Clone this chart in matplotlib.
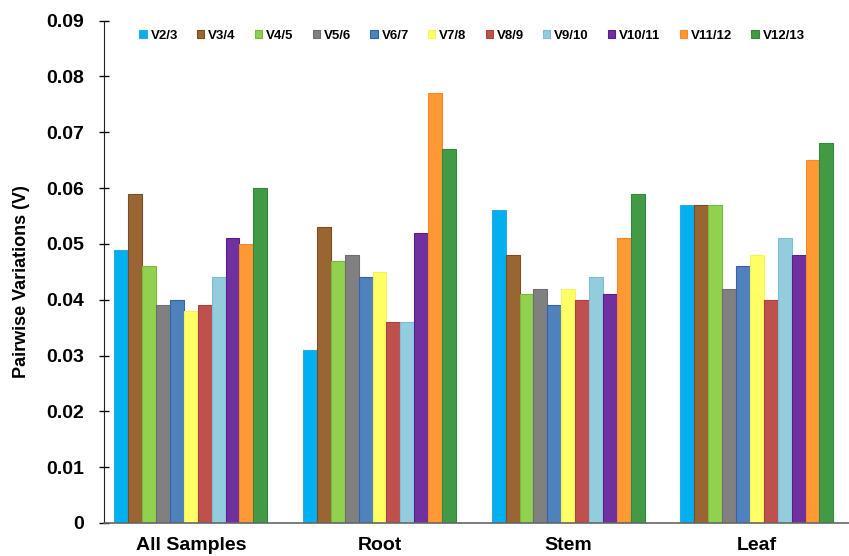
import matplotlib
matplotlib.use("Agg")
import matplotlib.pyplot as plt
import numpy as np

categories = ["All Samples", "Root", "Stem", "Leaf"]
series_names = ["V2/3", "V3/4", "V4/5", "V5/6", "V6/7", "V7/8", "V8/9",
                "V9/10", "V10/11", "V11/12", "V12/13"]
values = {
    "V2/3":   [0.049, 0.031, 0.056, 0.057],
    "V3/4":   [0.059, 0.053, 0.048, 0.057],
    "V4/5":   [0.046, 0.047, 0.041, 0.057],
    "V5/6":   [0.039, 0.048, 0.042, 0.042],
    "V6/7":   [0.040, 0.044, 0.039, 0.046],
    "V7/8":   [0.038, 0.045, 0.042, 0.048],
    "V8/9":   [0.039, 0.036, 0.040, 0.040],
    "V9/10":  [0.044, 0.036, 0.044, 0.051],
    "V10/11": [0.051, 0.052, 0.041, 0.048],
    "V11/12": [0.050, 0.077, 0.051, 0.065],
    "V12/13": [0.060, 0.067, 0.059, 0.068],
}
colors = ["#00B0F0", "#996633", "#92D050", "#808080", "#4F81BD", "#FFFF66",
          "#C0504D", "#93CDDD", "#7030A0", "#FF9933", "#439A46"]
edge_colors = ["#33A9DA", "#7A4E22", "#7CB83E", "#6E6E6E", "#3463A8", "#F3F35A",
               "#A84340", "#7FBFD6", "#56208A", "#F5892A", "#35883A"]

plt.rcParams['font.family'] = ['Liberation Sans', 'DejaVu Sans']

fig = plt.figure(figsize=(8.49, 5.56), dpi=100)
ax = fig.add_axes([0.1225, 0.0594, 0.8775, 0.9034])

x = np.arange(len(categories))
n = len(series_names)
group_w = 0.81
bw = group_w / n
for i, name in enumerate(series_names):
    offs = -group_w / 2 + bw * (i + 0.5)
    ax.bar(x + offs, values[name], width=bw, color=colors[i],
           edgecolor=edge_colors[i], linewidth=0.8, label=name)

ax.set_xlim(-0.46, 3.488)
ax.set_ylim(0, 0.09)
ax.set_yticks(np.arange(0, 0.0901, 0.01))
ax.set_yticklabels(["0"] + [f"{v:.2f}" for v in np.arange(0.01, 0.0901, 0.01)],
                   fontsize=14, fontweight='bold')
ax.set_xticks(x)
ax.set_xticklabels(categories, fontsize=14, fontweight='bold')
ax.tick_params(axis='x', length=0, pad=10)
ax.tick_params(axis='y', direction='inout', length=7, width=1, pad=11)
ax.spines['top'].set_visible(False)
ax.spines['right'].set_visible(False)
ax.spines['left'].set_color('#222222')
ax.spines['bottom'].set_color('#666666')
ax.spines['bottom'].set_linewidth(1.2)
ax.set_ylabel("Pairwise Variations (V)", fontsize=13, fontweight='bold')
ax.yaxis.set_label_coords(-0.100, 0.48)

leg = ax.legend(ncol=11, loc='upper center', bbox_to_anchor=(0.494, 1.005),
                frameon=False, handlelength=0.55, handleheight=0.55,
                handletextpad=0.3, columnspacing=1.45,
                prop={'weight': 'bold', 'size': 9.5})

fig.savefig("out.png", dpi=100)
